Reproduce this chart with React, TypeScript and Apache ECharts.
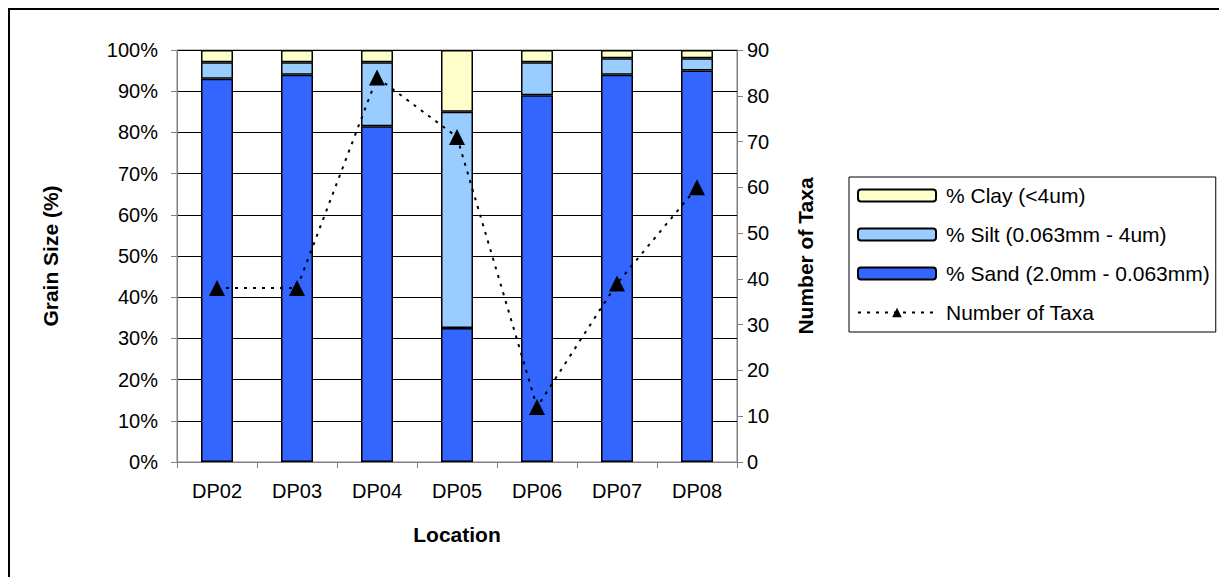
import React, { useEffect, useRef } from "react";
import * as echarts from "echarts";

const categories = ["DP02", "DP03", "DP04", "DP05", "DP06", "DP07", "DP08"];
const sand = [93, 94, 81.5, 32.5, 89, 94, 95];
const silt = [4, 3, 15.5, 52.5, 8, 4, 3];
const clay = [3, 3, 3, 15, 3, 2, 2];
const taxa = [38, 38, 84, 71, 12, 39, 60];

const FONT = "'Liberation Sans', Arial, sans-serif";

export default function App() {
  const ref = useRef<HTMLDivElement>(null);
  useEffect(() => {
    const chart = echarts.init(ref.current!, null, { renderer: "svg" });
    const barBase = {
      type: "bar",
      stack: "g",
      barWidth: "40%",
      yAxisIndex: 0,
    };
    const titleStyle = { fontSize: 21, fontWeight: "bold", color: "#000", fontFamily: FONT };
    chart.setOption({
      animation: false,
      textStyle: { fontFamily: FONT },
      grid: {
        left: 169,
        top: 42,
        width: 560,
        height: 412,
        show: true,
        borderColor: "#808080",
        borderWidth: 1,
      },
      legend: {
        orient: "vertical",
        left: 841,
        top: 169,
        itemWidth: 78,
        itemHeight: 12,
        itemGap: 18,
        padding: [8, 6, 9, 8],
        borderColor: "#000",
        borderWidth: 1,
        textStyle: { fontSize: 21, color: "#000", fontFamily: FONT, padding: [0, 0, 0, 5] },
        data: [
          "% Clay (<4um)",
          "% Silt (0.063mm - 4um)",
          "% Sand (2.0mm - 0.063mm)",
          "Number of Taxa",
        ],
      },
      xAxis: {
        type: "category",
        data: categories,
        name: "Location",
        nameLocation: "middle",
        nameGap: 62,
        nameTextStyle: titleStyle,
        axisLine: { lineStyle: { color: "#808080", width: 1 } },
        axisTick: { show: true, length: 6, lineStyle: { color: "#808080" } },
        axisLabel: { fontSize: 20, color: "#000", margin: 19, fontFamily: FONT },
      },
      yAxis: [
        {
          type: "value",
          min: 0,
          max: 100,
          interval: 10,
          name: "Grain Size (%)",
          nameLocation: "middle",
          nameRotate: 90,
          nameGap: 116,
          nameTextStyle: titleStyle,
          axisLine: { show: true, lineStyle: { color: "#808080" } },
          axisTick: { show: true, length: 6, lineStyle: { color: "#808080" } },
          axisLabel: { fontSize: 20, color: "#000", margin: 19, formatter: "{value}%", fontFamily: FONT },
          splitLine: { show: true, lineStyle: { color: "#000", width: 1 } },
        },
        {
          type: "value",
          min: 0,
          max: 90,
          interval: 10,
          position: "right",
          name: "Number of Taxa",
          nameLocation: "middle",
          nameRotate: 90,
          nameGap: 58,
          nameTextStyle: titleStyle,
          axisLine: { show: true, lineStyle: { color: "#808080" } },
          axisTick: { show: true, length: 6, lineStyle: { color: "#808080" } },
          axisLabel: { fontSize: 20, color: "#000", margin: 10, fontFamily: FONT },
          splitLine: { show: false },
        },
      ],
      series: [
        {
          ...barBase,
          name: "% Sand (2.0mm - 0.063mm)",
          data: sand,
          itemStyle: { color: "#3366FF", borderColor: "#000", borderWidth: 1.5 },
        },
        {
          ...barBase,
          name: "% Silt (0.063mm - 4um)",
          data: silt,
          itemStyle: { color: "#99CCFF", borderColor: "#000", borderWidth: 1.5 },
        },
        {
          ...barBase,
          name: "% Clay (<4um)",
          data: clay,
          itemStyle: { color: "#FFFFCC", borderColor: "#000", borderWidth: 1.5 },
        },
        {
          type: "line",
          name: "Number of Taxa",
          yAxisIndex: 1,
          data: taxa,
          symbol: "triangle",
          symbolSize: 16,
          itemStyle: { color: "#000" },
          lineStyle: { color: "#000", width: 2, type: [3, 6] },
          z: 5,
        },
      ],
    });
    return () => chart.dispose();
  }, []);
  return (
    <div
      style={{
        width: 1219,
        height: 569,
        boxSizing: "border-box",
        borderLeft: "2px solid #000",
        borderTop: "2px solid #000",
        position: "relative",
      }}
    >
      <div ref={ref} style={{ width: 1217, height: 567, position: "absolute", left: -2, top: -2 }} />
    </div>
  );
}
